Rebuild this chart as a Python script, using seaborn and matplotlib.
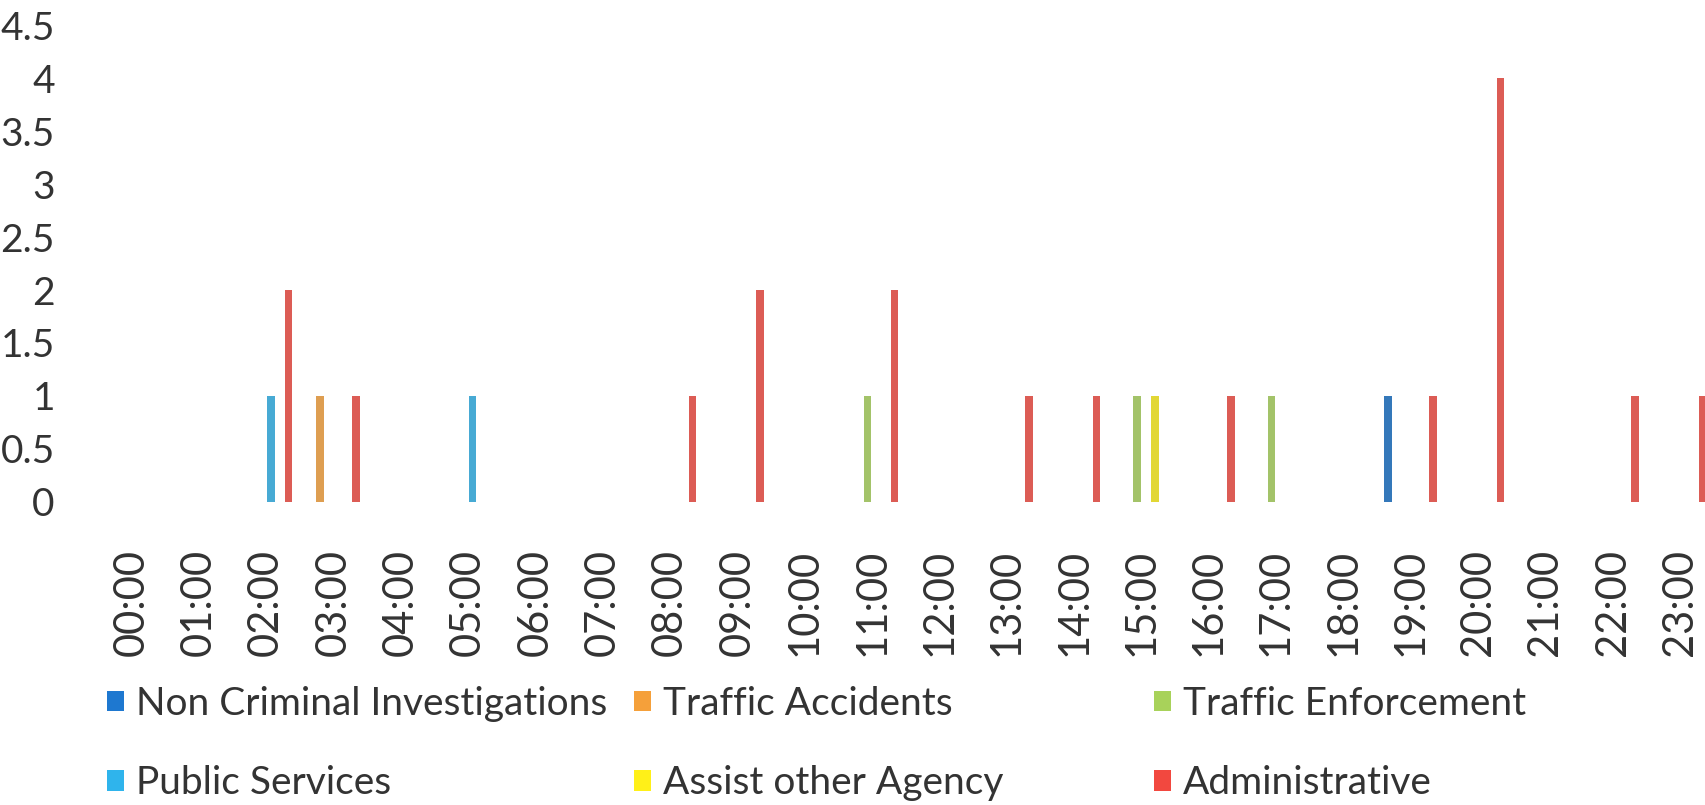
import matplotlib
matplotlib.use("Agg")
import matplotlib.pyplot as plt
import matplotlib.patches as mpatches
import numpy as np
import pandas as pd
import seaborn as sns

# Hourly categories
hours = [f"{h:02d}:00" for h in range(24)]

# Incident counts per hour for each call type
non_criminal = [0, 0, 0, 0, 0, 0, 0, 0, 0, 0, 0, 0, 0, 0, 0, 0, 0, 0, 0, 1, 0, 0, 0, 0]
traffic_accidents = [0, 0, 0, 1, 0, 0, 0, 0, 0, 0, 0, 0, 0, 0, 0, 0, 0, 0, 0, 0, 0, 0, 0, 0]
traffic_enforcement = [0, 0, 0, 0, 0, 0, 0, 0, 0, 0, 0, 1, 0, 0, 0, 1, 0, 1, 0, 0, 0, 0, 0, 0]
public_services = [0, 0, 1, 0, 0, 1, 0, 0, 0, 0, 0, 0, 0, 0, 0, 0, 0, 0, 0, 0, 0, 0, 0, 0]
assist_agency = [0, 0, 0, 0, 0, 0, 0, 0, 0, 0, 0, 0, 0, 0, 0, 1, 0, 0, 0, 0, 0, 0, 0, 0]
administrative = [0, 0, 2, 1, 0, 0, 0, 0, 1, 2, 0, 2, 0, 1, 1, 0, 1, 0, 0, 1, 4, 0, 1, 1]

series_names = ["Non Criminal Investigations", "Traffic Accidents", "Traffic Enforcement",
                "Public Services", "Assist other Agency", "Administrative"]
series_values = [non_criminal, traffic_accidents, traffic_enforcement,
                 public_services, assist_agency, administrative]
series_colors = ["#1E78D0", "#F5A03A", "#A8D25A", "#2FB4EC", "#FFF018", "#F2483F"]

y_ticks = [0, 0.5, 1, 1.5, 2, 2.5, 3, 3.5, 4, 4.5]

df = pd.DataFrame({
    "hour": hours * len(series_names),
    "type": np.repeat(series_names, len(hours)),
    "count": np.concatenate(series_values),
})

sns.set_theme(style="white")
plt.rcParams["font.family"] = ["Lato", "DejaVu Sans"]

fig = plt.figure(figsize=(17.05, 8.05), dpi=100)
ax = fig.add_axes([97.9 / 1705, (805 - 501.7) / 805, 1615.7 / 1705, 476.3 / 805])

sns.barplot(data=df, x="hour", y="count", hue="type", order=hours,
            hue_order=series_names, palette=series_colors,
            width=0.8, gap=0.15, dodge=True, linewidth=0, errorbar=None,
            legend=False, ax=ax)

ax.set_xlim(-0.5, 23.5)
ax.set_ylim(0, 4.5)
ax.set_yticks(y_ticks)
ax.set_yticklabels([f"{v:g}" for v in y_ticks])
ax.set_xlabel("")
ax.set_ylabel("")
for s in ax.spines.values():
    s.set_visible(False)
ax.tick_params(axis="y", length=0, pad=31, labelsize=28, labelcolor="#333333")
ax.tick_params(axis="x", length=0, pad=34, labelsize=30, labelcolor="#333333",
               labelrotation=90)

# Legend: three equal-width columns of two entries each
handles = [mpatches.Patch(facecolor=c, edgecolor="none") for c in series_colors]
col_text_x = [136, 663, 1183]
for col in range(3):
    idx = [col, col + 3]
    leg = fig.legend([handles[i] for i in idx], [series_names[i] for i in idx],
                     loc="upper left",
                     bbox_to_anchor=((col_text_x[col] - 29) / 1705, (805 - 686) / 805),
                     frameon=False, fontsize=28, handlelength=0.43, handleheight=0.44,
                     handletextpad=0.32, labelspacing=1.11, borderpad=0,
                     borderaxespad=0, labelcolor="#333333")

fig.savefig("out.png", dpi=100, facecolor="white")
